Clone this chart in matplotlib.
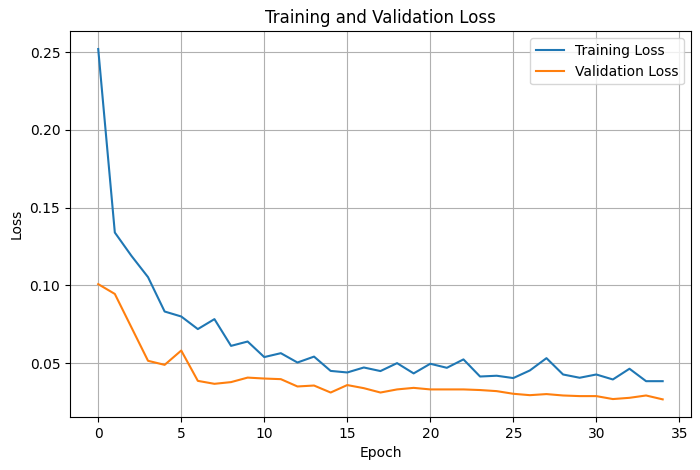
import numpy as np
import matplotlib
matplotlib.use("Agg")
import matplotlib.pyplot as plt

# loss values per epoch
epochs = list(range(35))
train_loss = [0.252, 0.134, 0.119, 0.1053, 0.0832, 0.080, 0.0719, 0.0783, 0.0611, 0.0639,
              0.0539, 0.0564, 0.0504, 0.0542, 0.045, 0.044, 0.0472, 0.0449, 0.050, 0.0434,
              0.0496, 0.047, 0.0524, 0.0414, 0.0419, 0.0404, 0.0453, 0.0532, 0.0427, 0.0406,
              0.0427, 0.0395, 0.0464, 0.0384, 0.0384]
val_loss = [0.1008, 0.0945, 0.073, 0.0515, 0.0489, 0.0581, 0.0386, 0.0367, 0.0378, 0.0407,
            0.0401, 0.0397, 0.035, 0.0356, 0.0311, 0.0359, 0.0339, 0.0311, 0.0331, 0.0341,
            0.0331, 0.0331, 0.0331, 0.0327, 0.032, 0.0303, 0.0294, 0.0301, 0.0292, 0.0288,
            0.0288, 0.0269, 0.0277, 0.0292, 0.0267]

fig, ax = plt.subplots(figsize=(7, 4.7), dpi=100)
ax.plot(epochs, train_loss, label='Training Loss')
ax.plot(epochs, val_loss, label='Validation Loss')
ax.set_title('Training and Validation Loss')
ax.set_xlabel('Epoch')
ax.set_ylabel('Loss')
ax.legend()
ax.grid(True)
fig.subplots_adjust(left=0.1, right=0.987, top=0.933, bottom=0.113)
fig.savefig('out.png')
